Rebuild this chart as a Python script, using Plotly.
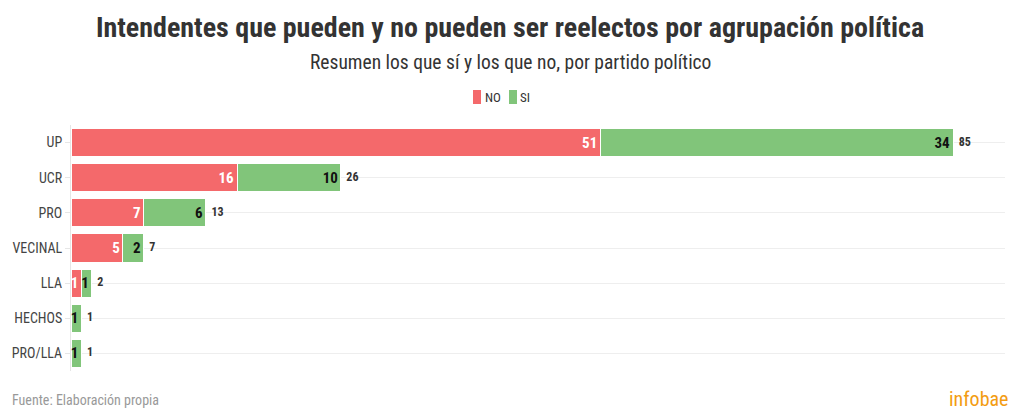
import plotly.graph_objects as go

categories = ["UP", "UCR", "PRO", "VECINAL", "LLA", "HECHOS", "PRO/LLA"]
no_values = [51, 16, 7, 5, 1, 0, 0]
si_values = [34, 10, 6, 2, 1, 1, 1]
totals = [n + s for n, s in zip(no_values, si_values)]
series_names = ["NO", "SI"]

FONT = "Liberation Sans Narrow, Roboto Condensed, Roboto, sans-serif"
RED = "#f4696b"
GREEN = "#81c57a"
COLORS = [RED, GREEN]

L, R, T, B = 71, 15, 125, 48
PW = 1020 - L - R
PH = 419 - T - B


def px_x(px):
    return (px - L) / PW


def px_y(py):
    return (419 - B - py) / PH


fig = go.Figure()
fig.add_trace(go.Bar(
    y=categories, x=no_values, orientation="h", name=series_names[0],
    marker=dict(color=RED, line=dict(color="white", width=1)),
    text=[str(v) if v else "" for v in no_values],
    textposition="inside", insidetextanchor="end",
    textfont=dict(color="white", size=15, family=FONT, weight="bold"),
    constraintext="none", cliponaxis=False, showlegend=False,
))
fig.add_trace(go.Bar(
    y=categories, x=si_values, orientation="h", name=series_names[1],
    marker=dict(color=GREEN, line=dict(color="white", width=1)),
    text=[str(v) for v in si_values],
    textposition="inside", insidetextanchor="end",
    textfont=dict(color="#111111", size=15, family=FONT, weight="bold"),
    constraintext="none", cliponaxis=False, showlegend=False,
))
fig.add_trace(go.Scatter(
    y=categories, x=totals, mode="text", showlegend=False,
    text=["  " + str(t) for t in totals], textposition="middle right",
    textfont=dict(color="#333333", size=12, family=FONT, weight="bold"),
    hoverinfo="skip", cliponaxis=False,
))

fig.update_layout(
    width=1020, height=419,
    barmode="stack", bargap=0.2,
    paper_bgcolor="white", plot_bgcolor="white",
    margin=dict(l=L, r=R, t=T, b=B),
    font=dict(family=FONT, color="#333333"),
    title=dict(
        text="<b>Intendentes que pueden y no pueden ser reelectos por agrupación política</b>",
        x=0.5, xanchor="center", y=0.935, yanchor="middle",
        font=dict(size=28, color="#333333", family=FONT),
    ),
    showlegend=False,
    xaxis=dict(range=[0, 90], visible=False, fixedrange=True),
    yaxis=dict(
        autorange="reversed", showgrid=True, gridcolor="#eeeeee",
        showline=True, linecolor="#e6e6e6", linewidth=1,
        ticks="outside", ticklen=5, tickcolor="#e6e6e6",
        tickfont=dict(size=14, color="#444444"),
    ),
)

# custom compact legend
legend_pos = [(473, 485), (509, 520)]
for name, color, (sx, tx) in zip(series_names, COLORS, legend_pos):
    fig.add_shape(
        type="rect", xref="paper", yref="paper",
        x0=px_x(sx), x1=px_x(sx + 8), y0=px_y(104), y1=px_y(90),
        fillcolor=color, line=dict(width=0), layer="above",
    )
    fig.add_annotation(
        text=name, xref="paper", yref="paper", x=px_x(tx), xanchor="left",
        y=px_y(97), yanchor="middle", showarrow=False,
        font=dict(size=13, color="#333333", family=FONT),
        xshift=-2,
    )

fig.add_annotation(
    text="Resumen los que sí y los que no, por partido político",
    xref="paper", yref="paper", x=px_x(510), xanchor="center",
    y=px_y(62), yanchor="middle", showarrow=False,
    font=dict(size=19.5, color="#333333", family=FONT),
)
fig.add_annotation(
    text="Fuente: Elaboración propia",
    xref="paper", yref="paper", x=px_x(10), xanchor="left",
    y=px_y(400), yanchor="middle", showarrow=False,
    font=dict(size=14, color="#999999", family=FONT),
)
fig.add_annotation(
    text="infobae",
    xref="paper", yref="paper", x=px_x(1010), xanchor="right",
    y=px_y(399), yanchor="middle", showarrow=False,
    font=dict(size=20, color="#f39c12", family=FONT),
)

fig.write_html("out.html")
